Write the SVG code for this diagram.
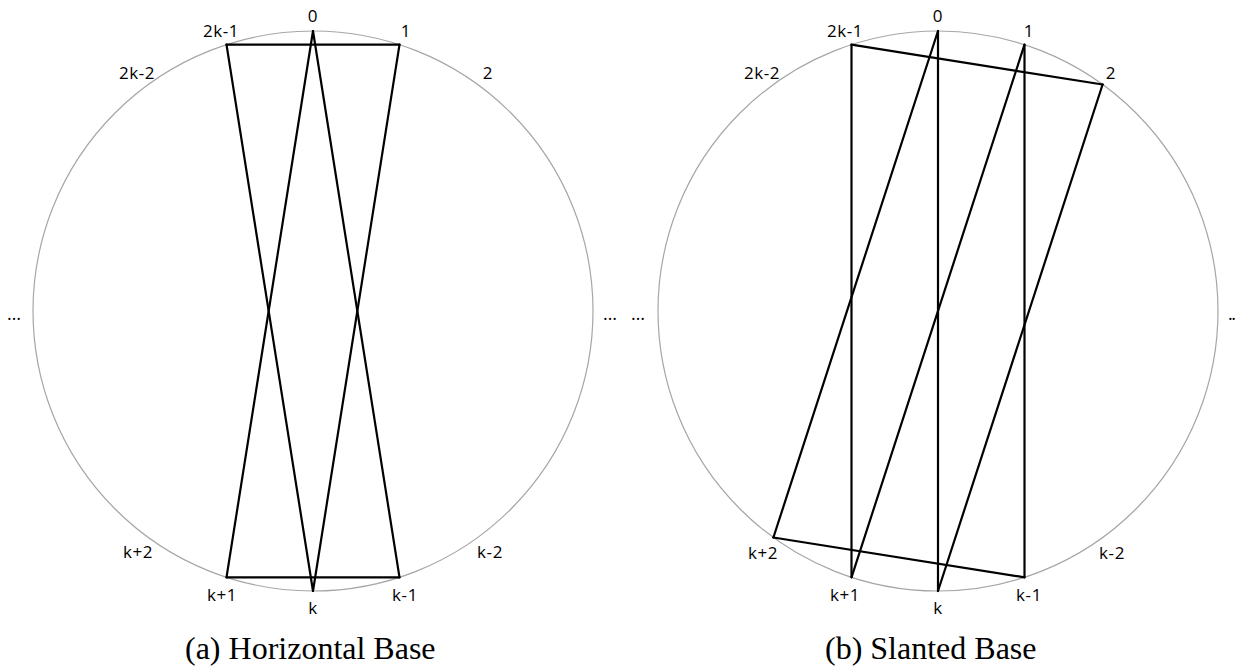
<svg xmlns="http://www.w3.org/2000/svg" width="1239" height="666" viewBox="0 0 1239 666">
<style>
.circ{fill:none;stroke:#a6a6a6;stroke-width:1.2}
.ln{stroke:#000;stroke-width:2.2;stroke-linecap:round;fill:none}
.lbl{font-family:"Open Sans","Liberation Sans",sans-serif;font-size:17px;fill:#000;text-anchor:middle;letter-spacing:0.6px}
.dots{font-family:"Open Sans","Liberation Sans",sans-serif;font-size:18px;fill:#000}
.cap{font-family:"Liberation Serif","Times New Roman",serif;font-size:32px;fill:#000}
</style>
<rect width="1239" height="666" fill="#fff"/>
<g id="diagram-a">
  <circle class="circ" cx="313" cy="311" r="280"/>
  <g id="connectors-a">
    <line class="ln" x1="226.5" y1="44.7" x2="399.5" y2="44.7"/>
    <line class="ln" x1="226.5" y1="44.7" x2="313" y2="591"/>
    <line class="ln" x1="399.5" y1="44.7" x2="313" y2="591"/>
    <line class="ln" x1="313" y1="31" x2="226.5" y2="577.3"/>
    <line class="ln" x1="313" y1="31" x2="399.5" y2="577.3"/>
    <line class="ln" x1="226.5" y1="577.3" x2="399.5" y2="577.3"/>
  </g>
  <g id="labels-a">
    <text class="lbl" x="313" y="22">0</text>
    <text class="lbl" x="221" y="37">2k-1</text>
    <text class="lbl" x="406" y="37">1</text>
    <text class="lbl" x="137" y="79">2k-2</text>
    <text class="lbl" x="488" y="79">2</text>
    <text class="lbl" x="138" y="558">k+2</text>
    <text class="lbl" x="490" y="558">k-2</text>
    <text class="lbl" x="222" y="601">k+1</text>
    <text class="lbl" x="405" y="601">k-1</text>
    <text class="lbl" x="313" y="614">k</text>
    <text class="dots" x="7" y="320">…</text>
    <text class="dots" x="603" y="320">…</text>
  </g>
  <text class="cap" x="185" y="659">(a) Horizontal Base</text>
</g>
<g id="diagram-b">
  <circle class="circ" cx="938" cy="311" r="280"/>
  <g id="connectors-b">
    <line class="ln" x1="851.5" y1="44.7" x2="1102.6" y2="84.5"/>
    <line class="ln" x1="851.5" y1="44.7" x2="851.5" y2="577.3"/>
    <line class="ln" x1="938" y1="31" x2="938" y2="591"/>
    <line class="ln" x1="1024.5" y1="44.7" x2="1024.5" y2="577.3"/>
    <line class="ln" x1="938" y1="31" x2="773.4" y2="537.5"/>
    <line class="ln" x1="1024.5" y1="44.7" x2="851.5" y2="577.3"/>
    <line class="ln" x1="1102.6" y1="84.5" x2="938" y2="591"/>
    <line class="ln" x1="773.4" y1="537.5" x2="1024.5" y2="577.3"/>
  </g>
  <g id="labels-b">
    <text class="lbl" x="938" y="22">0</text>
    <text class="lbl" x="845" y="37">2k-1</text>
    <text class="lbl" x="1029" y="37">1</text>
    <text class="lbl" x="762" y="79">2k-2</text>
    <text class="lbl" x="1111" y="79">2</text>
    <text class="lbl" x="763" y="559">k+2</text>
    <text class="lbl" x="1112" y="559">k-2</text>
    <text class="lbl" x="845" y="601">k+1</text>
    <text class="lbl" x="1029" y="601">k-1</text>
    <text class="lbl" x="938" y="614">k</text>
    <text class="dots" x="631" y="320">…</text>
    <text class="dots" x="1228" y="320" style="letter-spacing:-1.5px">..</text>
  </g>
  <text class="cap" x="825" y="659">(b) Slanted Base</text>
</g>
</svg>
